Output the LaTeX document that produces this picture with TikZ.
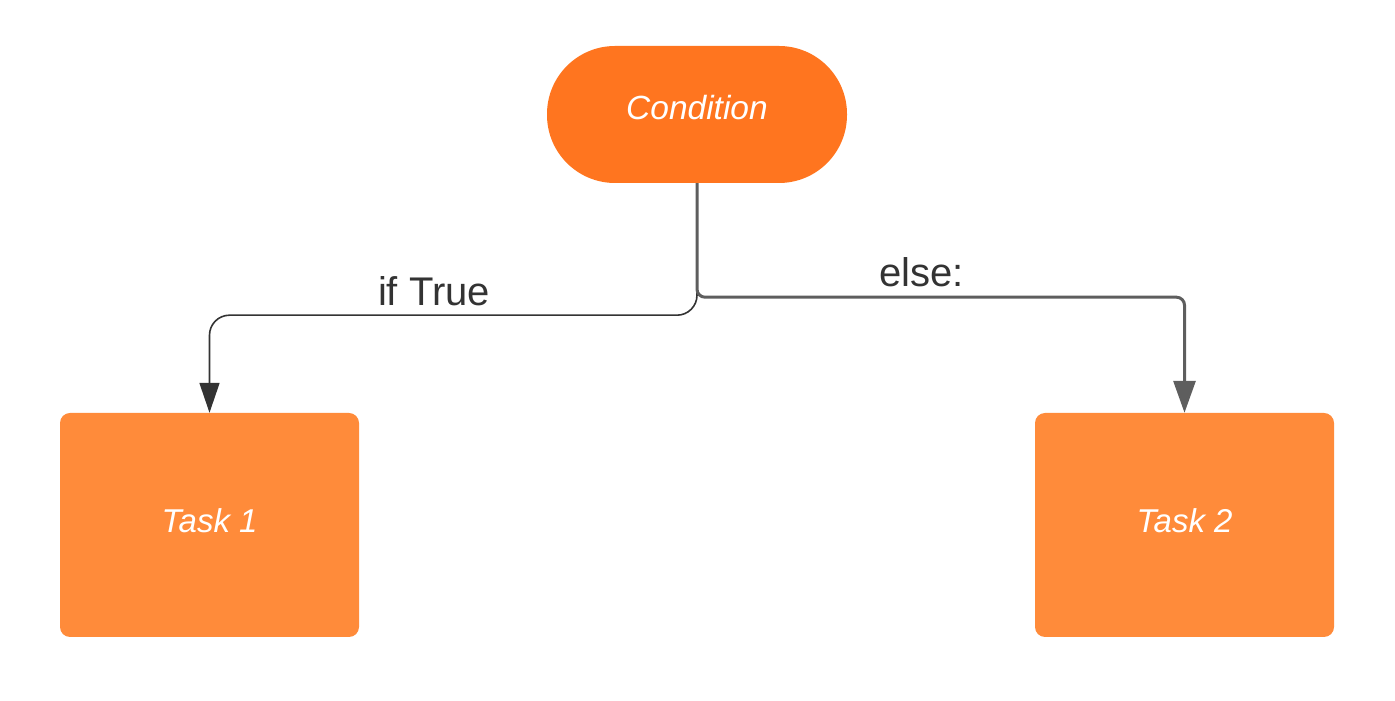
\documentclass[tikz,border=0pt]{standalone}
\usepackage{fontspec}
\setmainfont{Liberation Sans}
\usetikzlibrary{arrows.meta}
\definecolor{condfill}{RGB}{255,117,31}
\definecolor{taskfill}{RGB}{255,139,58}
\definecolor{darkline}{RGB}{51,51,51}
\definecolor{grayline}{RGB}{94,94,94}
\definecolor{labeltext}{RGB}{51,51,51}
\tikzset{
  condbox/.style={rectangle, fill=condfill, draw=none, minimum width=300pt, minimum height=137pt,
    rounded corners=68pt, text=white, font=\itshape\fontsize{33.5}{40}\selectfont, text depth=14pt, inner sep=0pt},
  taskbox/.style={rectangle, fill=taskfill, draw=none, minimum width=299pt, minimum height=224pt,
    rounded corners=10pt, text=white, font=\itshape\fontsize{33}{38}\selectfont, text depth=8pt, inner sep=0pt},
  trueline/.style={draw=darkline, line width=1.6pt, rounded corners=20pt,
    -{Triangle[width=20pt,length=30pt]}},
  elseline/.style={draw=grayline, line width=3pt, rounded corners=8pt,
    -{Triangle[width=22pt,length=32pt]}},
  edgelabel/.style={text=labeltext, font=\fontsize{40}{48}\selectfont, anchor=base, inner sep=0pt}
}
\begin{document}
\begin{tikzpicture}[x=1pt,y=1pt]
\useasboundingbox (0,0) rectangle (1395,701);
\node[condbox] (cond) at (697,586.5) {Condition};
\node[taskbox] (task1) at (209.5,176) {Task 1};
\node[taskbox] (task2) at (1184.5,176) {Task 2};
\draw[trueline] (cond.south) -- ++(0,-132) -| (task1.north);
\draw[elseline] (cond.south) -- ++(0,-114) -| (task2.north);
\node[edgelabel] (iftrue) at (434,395) {if True};
\node[edgelabel] (elselbl) at (921.5,414) {else:};
\end{tikzpicture}
\end{document}
